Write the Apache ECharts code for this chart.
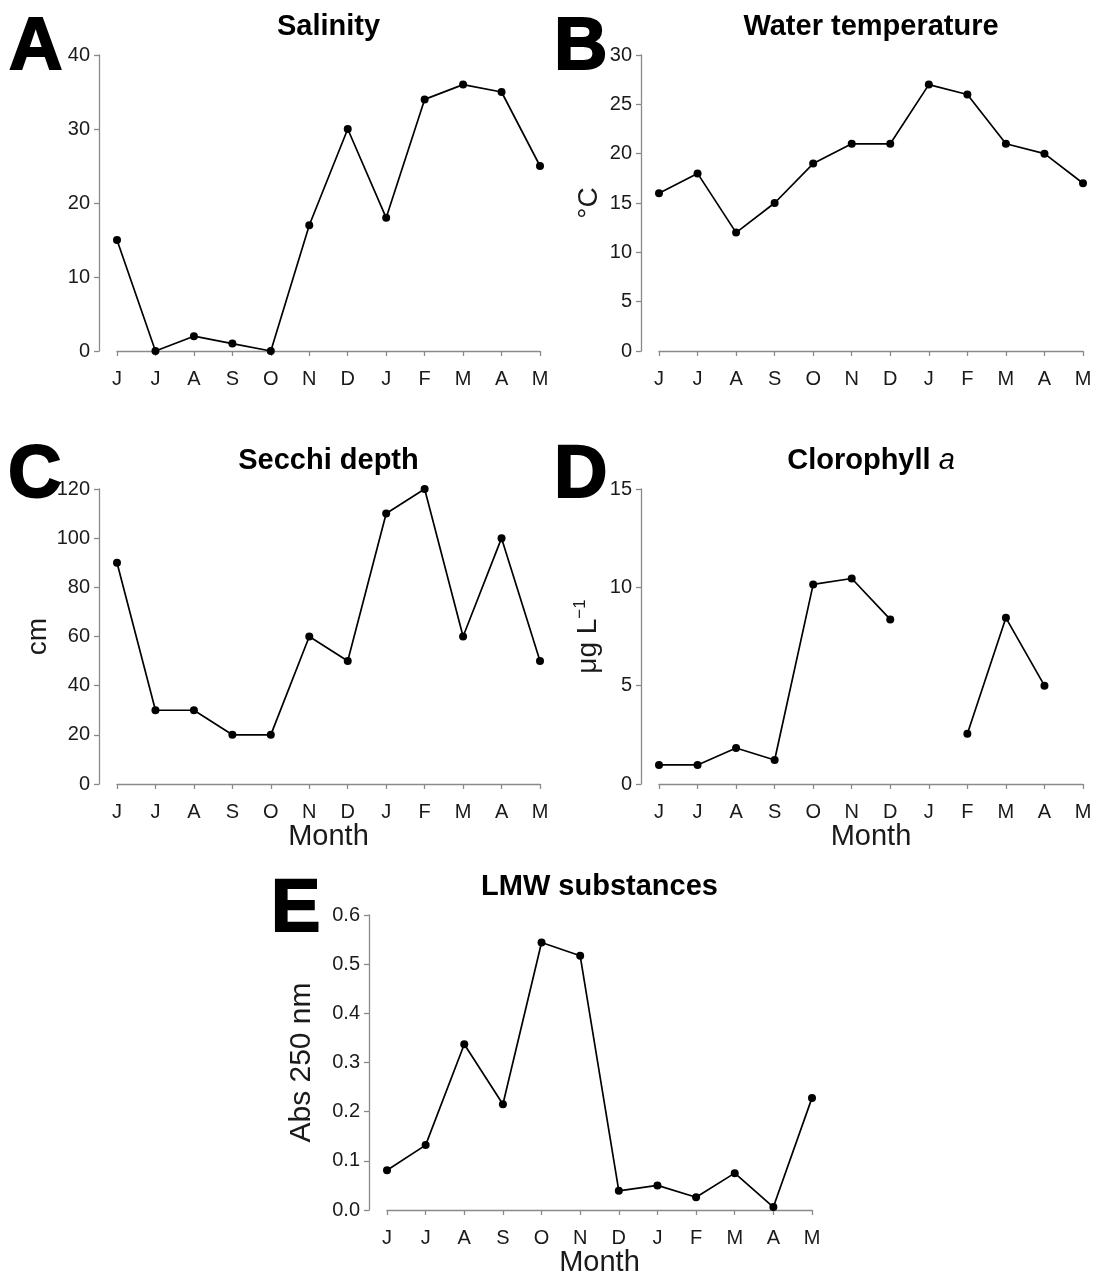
<!DOCTYPE html>
<html>
<head>
<meta charset="utf-8">
<script src="https://cdn.jsdelivr.net/npm/echarts@6/dist/echarts.min.js"></script>
<style>
  html, body { margin: 0; padding: 0; background: #fff; }
  #chart { width: 1097px; height: 1281px; }
</style>
</head>
<body>
<div id="chart"></div>
<script>
// Monthly sampling, June through May
const months = ['J', 'J', 'A', 'S', 'O', 'N', 'D', 'J', 'F', 'M', 'A', 'M'];

const salinity = [15, 0, 2, 1, 0, 17, 30, 18, 34, 36, 35, 25];
const waterTemp = [16, 18, 12, 15, 19, 21, 21, 27, 26, 21, 20, 17];
const secchiDepth = [90, 30, 30, 20, 20, 60, 50, 110, 120, 60, 100, 50];
const chlorophyll = [0.97, 0.97, 1.83, 1.22, 10.15, 10.45, 8.37, null, 2.55, 8.45, 5.0, null];
const lmwAbs = [0.081, 0.132, 0.337, 0.215, 0.544, 0.517, 0.039, 0.050, 0.026, 0.075, 0.006, 0.228];

const FONT = '"Liberation Sans", Arial, Helvetica, sans-serif';
const AXIS_GREY = '#8a8a8a';
const INK = '#1a1a1a';

// Plot areas (first to last category horizontally, 0 to top tick vertically)
const panels = [
  { key: 'A', left: 117, top: 55,  width: 423, height: 296, data: salinity,    max: 40,  interval: 10,  title: 'Salinity' },
  { key: 'B', left: 659, top: 55,  width: 424, height: 296, data: waterTemp,   max: 30,  interval: 5,   title: 'Water temperature' },
  { key: 'C', left: 117, top: 489, width: 423, height: 295, data: secchiDepth, max: 120, interval: 20,  title: 'Secchi depth' },
  { key: 'D', left: 659, top: 489, width: 424, height: 295, data: chlorophyll, max: 15,  interval: 5,   title: '{b|Clorophyll }{i|a}' },
  { key: 'E', left: 387, top: 915, width: 425, height: 295, data: lmwAbs,      max: 0.6, interval: 0.1, title: 'LMW substances' }
];

const yNames = {
  A: '', B: '°C', C: 'cm', D: '{n|μg L}{s|−1}', E: 'Abs 250 nm'
};
const yNameGaps = { A: 0, B: 38, C: 38, D: 36, E: 52 };
const xNames = { A: '', B: '', C: 'Month', D: 'Month', E: 'Month' };

const grids = [], xAxes = [], yAxes = [], series = [], titles = [], graphics = [];

panels.forEach((p, i) => {
  grids.push({ left: p.left, top: p.top, width: p.width, height: p.height, containLabel: false });

  xAxes.push({
    type: 'category',
    gridIndex: i,
    data: months,
    boundaryGap: false,
    offset: 11,
    axisLine: { show: true, lineStyle: { color: AXIS_GREY, width: 1.3 } },
    axisTick: { show: true, inside: false, length: 5, lineStyle: { color: AXIS_GREY, width: 1.3 } },
    axisLabel: { color: INK, fontFamily: FONT, fontSize: 20, margin: 7, interval: 0 },
    splitLine: { show: false },
    name: xNames[p.key],
    nameLocation: 'middle',
    nameGap: 27,
    nameTextStyle: { color: INK, fontFamily: FONT, fontSize: 29, verticalAlign: 'top' }
  });

  yAxes.push({
    type: 'value',
    gridIndex: i,
    min: 0,
    max: p.max,
    interval: p.interval,
    offset: 18,
    axisLine: { show: true, lineStyle: { color: AXIS_GREY, width: 1.3 } },
    axisTick: { show: true, inside: false, length: 5, lineStyle: { color: AXIS_GREY, width: 1.3 } },
    axisLabel: {
      color: INK, fontFamily: FONT, fontSize: 20, margin: 9,
      formatter: p.key === 'E' ? (v) => v.toFixed(1) : (v) => String(v)
    },
    splitLine: { show: false },
    name: yNames[p.key],
    nameLocation: 'middle',
    nameRotate: 90,
    nameGap: yNameGaps[p.key],
    nameTextStyle: {
      color: INK, fontFamily: FONT, fontSize: p.key === 'E' ? 30 : 28,
      rich: {
        n: { color: INK, fontFamily: FONT, fontSize: 28 },
        s: { color: INK, fontFamily: FONT, fontSize: 17, padding: [0, 0, 16, 0] }
      }
    }
  });

  series.push({
    type: 'line',
    xAxisIndex: i,
    yAxisIndex: i,
    data: p.data,
    connectNulls: false,
    symbol: 'circle',
    symbolSize: 8,
    showSymbol: true,
    lineStyle: { color: '#000', width: 1.7 },
    itemStyle: { color: '#000' },
    animation: false
  });

  titles.push({
    text: p.title,
    left: p.left + p.width / 2 - 5,
    top: p.top - 48,
    textAlign: 'center',
    textStyle: {
      color: '#000', fontFamily: FONT, fontSize: 29, fontWeight: 'bold',
      rich: {
        b: { color: '#000', fontFamily: FONT, fontSize: 29, fontWeight: 'bold' },
        i: { color: '#000', fontFamily: FONT, fontSize: 29, fontStyle: 'italic', fontWeight: 'normal' }
      }
    }
  });
});

// Panel letters
const letters = [
  { t: 'A', x: 9,   y: 12 },
  { t: 'B', x: 554, y: 12 },
  { t: 'C', x: 8,   y: 440 },
  { t: 'D', x: 554, y: 440 },
  { t: 'E', x: 271, y: 874 }
];
letters.forEach(l => {
  graphics.push({
    type: 'text',
    x: l.x,
    y: l.y,
    style: { text: l.t, fill: '#000', stroke: '#000', lineWidth: 2, font: 'bold 74px ' + FONT }
  });
});

const chart = echarts.init(document.getElementById('chart'), null, { renderer: 'canvas' });
chart.setOption({
  backgroundColor: '#fff',
  animation: false,
  title: titles,
  grid: grids,
  xAxis: xAxes,
  yAxis: yAxes,
  series: series,
  graphic: graphics
});
</script>
</body>
</html>
